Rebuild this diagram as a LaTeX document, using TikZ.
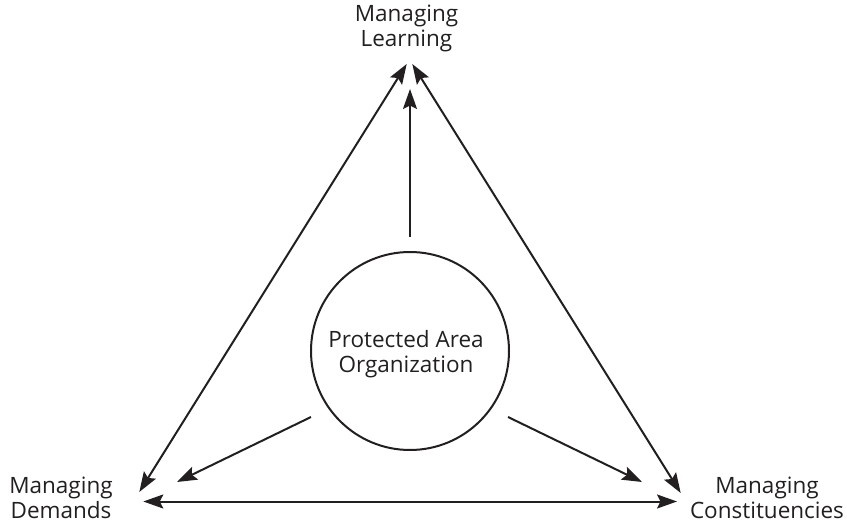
\documentclass[tikz,border=0pt]{standalone}
\usepackage{fontspec}
\setmainfont{Open Sans}
\usetikzlibrary{arrows.meta}
\definecolor{ink}{HTML}{231F20}
\begin{document}
\begin{tikzpicture}[x=1pt,y=-1pt,
  lbl/.style={align=center,font=\fontsize{22.5}{25}\selectfont,text=ink,inner sep=0pt,anchor=base},
  tip/.style={},
  link/.style={draw=ink,line width=2pt,-{Stealth[length=20pt,width=14pt,inset=3.5pt]}},
  link2/.style={link,{Stealth[length=20pt,width=14pt,inset=3.5pt]}-{Stealth[length=20pt,width=14pt,inset=3.5pt]}}]
\useasboundingbox (0,0) rectangle (847,524);
\node[lbl] (learn) at (406.5,46.7) {Managing\\Learning};
\node[lbl] (dem) at (61,518) {Managing\\Demands};
\node[lbl] (con) at (767,518) {Managing\\Constituencies};
\node[draw=ink,line width=2pt,circle,minimum size=198pt,inner sep=0pt] (org) at (410,351) {};
\node[lbl] (orgtxt) at (406,372.7) {Protected Area\\Organization};
\coordinate (tL) at (406.7,64);
\coordinate (tR) at (412.3,64);
\coordinate (tM) at (410,89);
\coordinate (bL) at (139.3,492);
\coordinate (bR) at (680.7,493);
\coordinate (hL) at (143.3,501.5);
\coordinate (hR) at (677,501.5);
\coordinate (iL) at (177,482);
\coordinate (iR) at (642,482);
\coordinate (sM) at (410,237);
\coordinate (sL) at (311,417);
\coordinate (sR) at (508,417);
\draw[link2] (bL) -- (tL);
\draw[link2] (bR) -- (tR);
\draw[link2] (hL) -- (hR);
\draw[link] (sM) -- (tM);
\draw[link] (sL) -- (iL);
\draw[link] (sR) -- (iR);
\end{tikzpicture}
\end{document}
